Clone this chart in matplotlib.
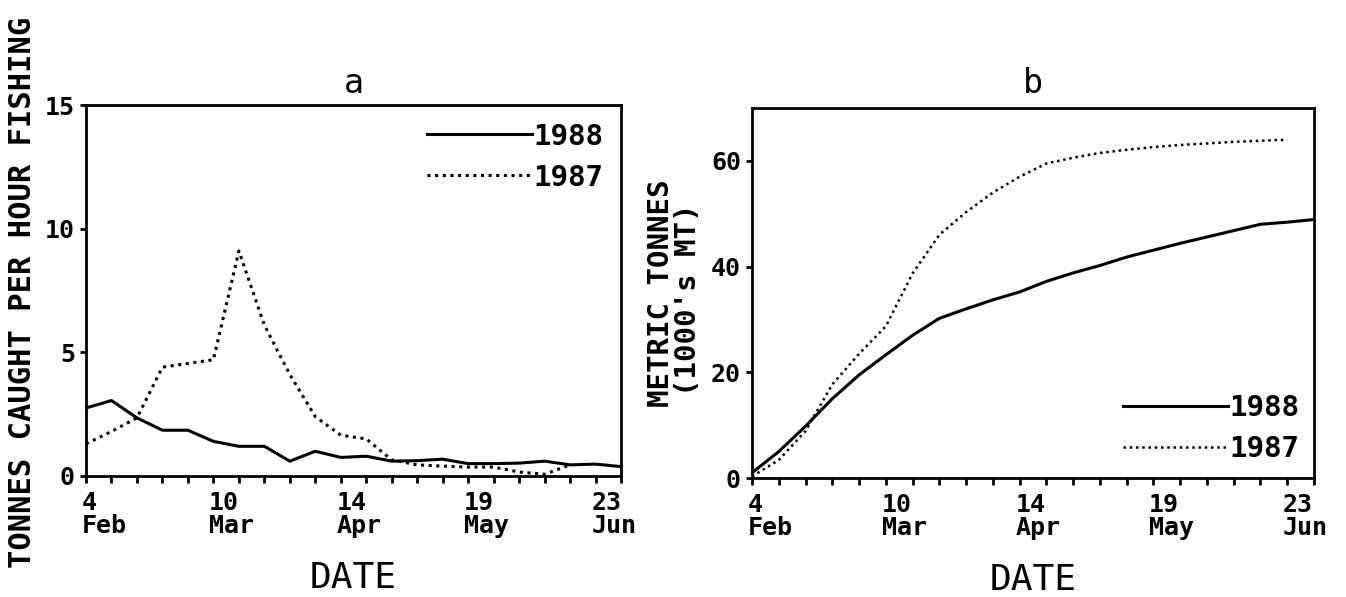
import matplotlib.pyplot as plt
import matplotlib.transforms as mtransforms

# weeks since 4 Feb
weeks = list(range(22))
date_ticks = [0, 5, 10, 15, 20]
date_labels = ['4\nFeb', '10\nMar', '14\nApr', '19\nMay', '23\nJun']

# panel a: tonnes caught per hour fishing
cpue_1988 = [2.75, 3.05, 2.35, 1.85, 1.85, 1.4, 1.2, 1.2, 0.6, 1.0, 0.75,
             0.8, 0.6, 0.62, 0.68, 0.5, 0.5, 0.52, 0.6, 0.45, 0.48, 0.38]
cpue_1987 = [1.3, 1.8, 2.35, 4.4, 4.55, 4.7, 9.1, 6.1, 4.1, 2.4, 1.65,
             1.5, 0.65, 0.45, 0.4, 0.36, 0.36, 0.16, 0.07, 0.45]

# panel b: cumulative catch (1000's MT)
cum_1988 = [1.0, 5.0, 9.8, 15.0, 19.5, 23.3, 27.0, 30.2, 32.0, 33.7, 35.2,
            37.2, 38.8, 40.2, 41.8, 43.1, 44.4, 45.6, 46.8, 48.0, 48.4, 48.9]
cum_1987 = [0.3, 3.4, 8.9, 17.7, 23.5, 28.7, 38.7, 46.0, 50.3, 54.0, 57.0,
            59.5, 60.6, 61.5, 62.1, 62.6, 63.0, 63.3, 63.6, 63.8, 64.0]

plt.rcParams['font.family'] = ['DejaVu Sans Mono', 'DejaVu Sans']

fig = plt.figure(figsize=(13.46, 5.97), dpi=100)
ax_a = fig.add_axes([0.0639, 0.2027, 0.3975, 0.6214])
ax_b = fig.add_axes([0.5587, 0.1993, 0.4175, 0.6198])

dotted = (0, (1, 1.5))


def style_axis(ax):
    for s in ax.spines.values():
        s.set_linewidth(2)
    ax.set_xlim(0, 21)
    ax.set_xticks(weeks)
    ax.set_xticklabels([date_labels[date_ticks.index(w)] if w in date_ticks else ''
                        for w in weeks], fontsize=18, linespacing=0.95,
                       fontweight='bold')
    ax.tick_params(axis='x', direction='out', length=5, width=2, pad=6)
    ax.tick_params(axis='y', direction='out', length=4, width=2, pad=4, labelsize=18)
    for lab in ax.get_yticklabels():
        lab.set_fontweight('bold')
    shift = mtransforms.ScaledTranslation(-3 / 72, 0, fig.dpi_scale_trans)
    for lab in ax.get_xticklabels():
        lab.set_horizontalalignment('left')
        lab.set_multialignment('left')
        lab.set_transform(lab.get_transform() + shift)


legend_font = {'size': 21, 'weight': 'bold'}

# --- panel a ---
ax_a.plot(weeks, cpue_1988, color='black', lw=2.2, label='1988')
ax_a.plot(weeks[:len(cpue_1987)], cpue_1987, color='black', lw=2.2,
          linestyle=dotted, label='1987')
ax_a.set_ylim(0, 15)
ax_a.set_yticks([0, 5, 10, 15])
style_axis(ax_a)
ax_a.set_title('a', fontsize=24, pad=9)
ax_a.set_xlabel('DATE', fontsize=26, labelpad=16)
ax_a.legend(loc='upper right', frameon=False, prop=legend_font, handlelength=3.6,
            handletextpad=0.05, labelspacing=0.45, borderpad=0, borderaxespad=0.6)

# --- panel b ---
ax_b.plot(weeks, cum_1988, color='black', lw=2.2, label='1988')
ax_b.plot(weeks[:len(cum_1987)], cum_1987, color='black', lw=1.8,
          linestyle=dotted, label='1987')
ax_b.set_ylim(0, 70)
ax_b.set_yticks([0, 20, 40, 60])
style_axis(ax_b)
ax_b.set_title('b', fontsize=24, pad=11)
ax_b.set_xlabel('DATE', fontsize=26, labelpad=16)
ax_b.legend(loc='lower right', frameon=False, prop=legend_font, handlelength=3.6,
            handletextpad=0.05, labelspacing=0.45, borderpad=0, borderaxespad=0.5)

fig.text(23 / 1346, 1 - 292 / 597, 'TONNES CAUGHT PER HOUR FISHING', rotation=90,
         ha='center', va='center', fontsize=22, fontweight='bold')
fig.text(661 / 1346, 1 - 293 / 597, 'METRIC TONNES', rotation=90,
         ha='center', va='center', fontsize=21, fontweight='bold')
fig.text(688 / 1346, 1 - 300 / 597, "(1000's MT)", rotation=90,
         ha='center', va='center', fontsize=21, fontweight='bold')

fig.savefig('out.png', dpi=100)
